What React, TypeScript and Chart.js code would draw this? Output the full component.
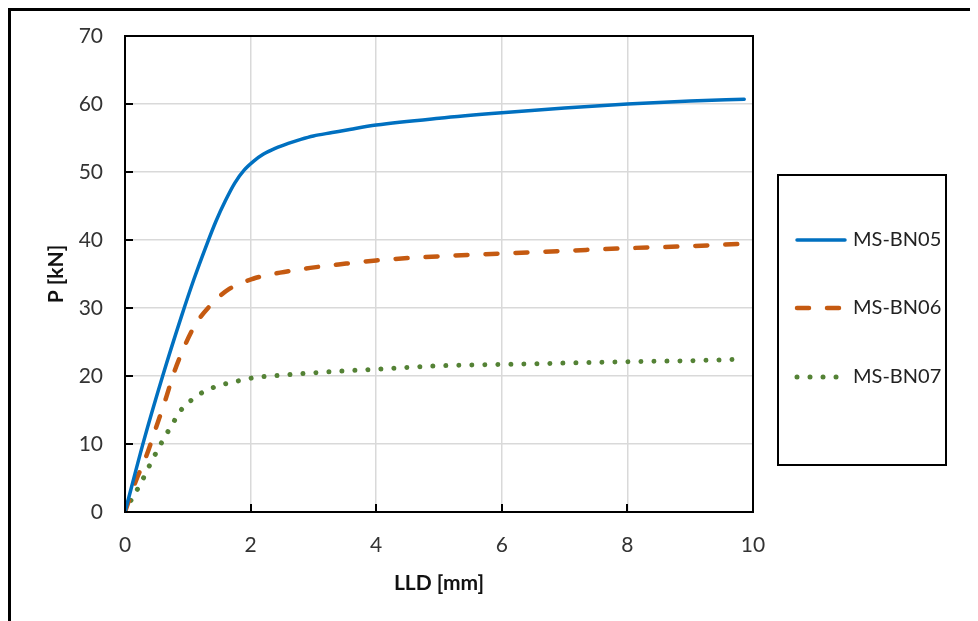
import React, { useEffect, useRef } from "react";
import { Chart, registerables } from "chart.js";
Chart.register(...registerables);

const seriesLabels = ["MS-BN05", "MS-BN06", "MS-BN07"];
const seriesColors = ["#0070C0", "#C55A11", "#548235"];

const bn05X = [0, 0.3, 0.6, 0.9, 1.1, 1.3, 1.45, 1.6, 1.75, 1.9, 2.05, 2.2, 2.4, 2.6, 2.8, 3.0, 3.3, 3.6, 4.0, 5.0, 6.0, 7.0, 8.0, 9.0, 9.86];
const bn05Y = [0, 10.5, 20, 28.8, 34.3, 39.3, 42.8, 45.8, 48.4, 50.3, 51.6, 52.6, 53.5, 54.2, 54.8, 55.3, 55.8, 56.3, 56.9, 57.9, 58.7, 59.4, 60.0, 60.45, 60.7];

const bn06X = [0, 0.17, 0.33, 0.49, 0.64, 0.78, 0.94, 1.11, 1.36, 1.66, 2.04, 2.47, 2.95, 3.4, 4.0, 5.0, 6.0, 7.0, 8.0, 9.0, 9.75];
const bn06Y = [0, 4.5, 8.0, 12.3, 16.4, 20.5, 24.2, 27.4, 30.4, 32.8, 34.3, 35.2, 35.9, 36.4, 37.0, 37.6, 38.0, 38.4, 38.8, 39.1, 39.4];

const bn07X = [0, 0.1, 0.25, 0.41, 0.57, 0.74, 0.83, 0.91, 1.05, 1.18, 1.33, 1.49, 1.67, 1.86, 2.05, 2.47, 2.89, 3.4, 4.0, 5.0, 6.0, 7.0, 8.0, 9.0, 9.78];
const bn07Y = [0, 1.8, 4.2, 7.2, 10.0, 12.7, 14.1, 15.2, 16.4, 17.3, 18.0, 18.6, 19.0, 19.4, 19.75, 20.1, 20.4, 20.7, 21.0, 21.5, 21.7, 21.9, 22.1, 22.25, 22.45];

const xTicks = [0, 2, 4, 6, 8, 10];
const yTicks = [0, 10, 20, 30, 40, 50, 60, 70];
const xTitle = "LLD [mm]";
const yTitle = "P [kN]";

const FONT = "Lato, 'Noto Sans', sans-serif";
const W = 967;
const H = 610;

export default function App() {
  const ref = useRef<HTMLCanvasElement>(null);

  useEffect(() => {
    document.documentElement.style.overflow = "hidden";
    const canvas = ref.current;
    if (!canvas) return;
    const pts = (xs: number[], ys: number[]) => xs.map((x, i) => ({ x, y: ys[i] }));

    const framePlugin = {
      id: "framePlugin",
      afterDraw(chart: any) {
        const { ctx, chartArea: a, scales } = chart;
        ctx.save();
        ctx.strokeStyle = "#000";
        ctx.lineWidth = 2;
        ctx.setLineDash([]);
        ctx.beginPath();
        scales.x.ticks.forEach((t: any) => {
          const px = Math.round(scales.x.getPixelForValue(t.value));
          ctx.moveTo(px, a.bottom);
          ctx.lineTo(px, a.bottom - 8);
        });
        scales.y.ticks.forEach((t: any) => {
          const py = Math.round(scales.y.getPixelForValue(t.value));
          ctx.moveTo(a.left, py);
          ctx.lineTo(a.left + 8, py);
        });
        ctx.stroke();
        ctx.strokeRect(a.left, a.top, a.right - a.left, a.bottom - a.top);

        // legend
        const bx = 767, by = 164, bw = 168, bh = 290;
        ctx.lineWidth = 2;
        ctx.strokeRect(bx, by, bw, bh);
        const rows = [229, 297, 366];
        chart.data.datasets.forEach((ds: any, i: number) => {
          const y = rows[i];
          ctx.save();
          ctx.strokeStyle = ds.borderColor;
          ctx.lineWidth = ds.borderWidth;
          ctx.lineCap = ds.borderCapStyle || "butt";
          ctx.setLineDash(ds.borderDash || []);
          ctx.beginPath();
          ctx.moveTo(786, y);
          ctx.lineTo(834, y);
          ctx.stroke();
          ctx.restore();
          ctx.fillStyle = "#222";
          ctx.font = `20px ${FONT}`;
          ctx.textBaseline = "middle";
          ctx.textAlign = "left";
          ctx.fillText(ds.label, 842, y);
        });
        ctx.restore();
      },
    };

    const chart = new Chart(canvas, {
      type: "line",
      data: {
        datasets: [
          {
            label: seriesLabels[0],
            data: pts(bn05X, bn05Y),
            borderColor: seriesColors[0],
            borderWidth: 3.5,
            pointRadius: 0,
            cubicInterpolationMode: "monotone",
            borderCapStyle: "round",
          },
          {
            label: seriesLabels[1],
            data: pts(bn06X, bn06Y),
            borderColor: seriesColors[1],
            borderWidth: 4.5,
            borderDash: [12, 18],
            borderCapStyle: "round",
            pointRadius: 0,
            cubicInterpolationMode: "monotone",
          },
          {
            label: seriesLabels[2],
            data: pts(bn07X, bn07Y),
            borderColor: seriesColors[2],
            borderWidth: 5,
            borderDash: [0.01, 13],
            borderCapStyle: "round",
            pointRadius: 0,
            cubicInterpolationMode: "monotone",
          },
        ] as any,
      },
      options: {
        animation: false,
        responsive: false,
        layout: { padding: { top: 25, right: 225, left: 0, bottom: 0 } },
        plugins: { legend: { display: false }, tooltip: { enabled: false } },
        scales: {
          x: {
            type: "linear",
            min: 0,
            max: 10,
            afterBuildTicks: (s: any) => {
              s.ticks = xTicks.map((v) => ({ value: v }));
            },
            afterFit: (s: any) => {
              s.height = 109;
              s.paddingLeft = 0;
              s.paddingRight = 0;
            },
            grid: { color: "#d9d9d9", lineWidth: 1.5, drawTicks: false },
            border: { display: false },
            ticks: { padding: 21, color: "#333", font: { family: FONT, size: 21 }, maxRotation: 0 },
            title: {
              display: true,
              text: xTitle,
              color: "#111",
              font: { family: FONT, size: 21, weight: "bold" },
              padding: { top: 0, bottom: 25 },
            },
          },
          y: {
            type: "linear",
            min: 0,
            max: 70,
            afterBuildTicks: (s: any) => {
              s.ticks = yTicks.map((v) => ({ value: v }));
            },
            afterFit: (s: any) => {
              s.width = 114;
              s.paddingTop = 0;
              s.paddingBottom = 0;
            },
            grid: { color: "#d9d9d9", lineWidth: 1.5, drawTicks: false },
            border: { display: false },
            ticks: { padding: 22, color: "#333", font: { family: FONT, size: 21 } },
            title: {
              display: true,
              text: yTitle,
              color: "#111",
              font: { family: FONT, size: 21, weight: "bold" },
              padding: { top: 33, bottom: 0 },
            },
          },
        },
      } as any,
      plugins: [framePlugin],
    });
    return () => chart.destroy();
  }, []);

  return (
    <div
      style={{
        borderLeft: "3px solid #000",
        borderTop: "3px solid #000",
        width: W,
        height: H,
        background: "#fff",
      }}
    >
      <canvas ref={ref} width={W} height={H} style={{ display: "block", width: W, height: H }} />
    </div>
  );
}
